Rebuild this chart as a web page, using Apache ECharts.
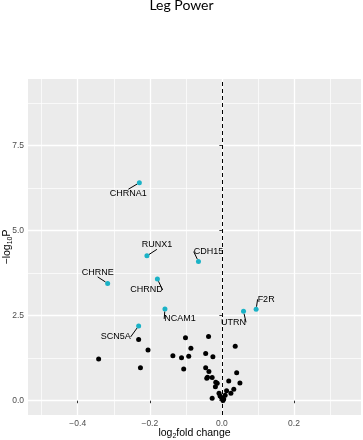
<!DOCTYPE html>
<html>
<head>
<meta charset="utf-8">
<script src="https://cdn.jsdelivr.net/npm/echarts@6/dist/echarts.min.js"></script>
<style>
  html, body { margin: 0; padding: 0; background: #fff; }
  #chart { width: 363px; height: 440px; }
</style>
</head>
<body>
<div id="chart"></div>
<script>
// 标注的基因
const geneNames = ["CHRNA1", "RUNX1", "CHRNE", "CHRND", "CDH15", "NCAM1", "SCN5A", "UTRN", "F2R"];
const geneLogFC = [-0.229, -0.208, -0.317, -0.179, -0.065, -0.158, -0.231, 0.060, 0.095];
const geneLogP = [6.41, 4.26, 3.45, 3.58, 4.09, 2.70, 2.20, 2.63, 2.69];

// 其他点
const otherLogFC = [-0.342, -0.231, -0.205, -0.226, -0.101, -0.037, -0.086, -0.136, -0.112, -0.092,
  -0.106, -0.045, -0.025, 0.037, -0.045, -0.036, -0.040, -0.042, -0.027, -0.017,
  -0.013, -0.018, 0.041, 0.019, 0.050, 0.033, 0.025, 0.013, 0.009, -0.008,
  -0.005, -0.001, 0.003, 0.005, -0.027];
const otherLogP = [1.23, 1.80, 1.49, 0.97, 1.85, 1.89, 1.54, 1.32, 1.26, 1.31,
  0.93, 1.39, 1.29, 1.60, 0.97, 0.86, 0.69, 0.66, 0.68, 0.54,
  0.51, 0.41, 0.82, 0.58, 0.52, 0.34, 0.22, 0.29, 0.16, 0.22,
  0.14, 0.09, 0.01, 0.05, 0.07];

// 刻度
const xMajorTicks = [-0.4, -0.2, 0, 0.2];
const xMinorTicks = [-0.5, -0.3, -0.1, 0.1, 0.3];
const yMajorTicks = [0, 2.5, 5, 7.5];
const yMinorTicks = [1.25, 3.75, 6.25, 8.75];

// 标签偏移 (dx, dy)
const labelOffsets = [[-11, 11], [10, -11], [-10, -11], [-11, 11], [10, -10], [15, 10], [-23, 11], [-10, 11], [10, -10]];

const chart = echarts.init(document.getElementById("chart"));
const tickFmt = v => (v < 0 ? "\u2212" : "") + Math.abs(v).toFixed(1);

const gridLines = [];
xMajorTicks.forEach(v => gridLines.push({ xAxis: v, lineStyle: { color: "#fff", width: 1.3, type: "solid" } }));
xMinorTicks.forEach(v => gridLines.push({ xAxis: v, lineStyle: { color: "#fff", width: 0.7, type: "solid" } }));
yMajorTicks.forEach(v => gridLines.push({ yAxis: v, lineStyle: { color: "#fff", width: 1.3, type: "solid" } }));
yMinorTicks.forEach(v => gridLines.push({ yAxis: v, lineStyle: { color: "#fff", width: 0.7, type: "solid" } }));

const nameRich = {
  a: { fontFamily: "Liberation Sans", fontSize: 10.5, color: "#000" },
  s: { fontFamily: "Liberation Sans", fontSize: 7, color: "#000", padding: [6, 0, 0, 0] }
};

const option = {
  animation: false,
  title: {
    text: "Leg Power",
    left: "center",
    top: -7,
    textStyle: { fontFamily: "Lato", fontSize: 14, fontWeight: "normal", color: "#000" }
  },
  grid: {
    left: 28, right: 2, top: 79, bottom: 25,
    containLabel: false,
    outerBoundsMode: "none",
    show: true, backgroundColor: "#EBEBEB", borderWidth: 0
  },
  xAxis: {
    type: "value",
    min: -0.538, max: 0.386,
    name: "{a|log}{s|2}{a|fold change}",
    nameLocation: "middle",
    nameGap: 12,
    nameMoveOverlap: false,
    nameTextStyle: { rich: nameRich },
    axisLine: { show: false },
    axisTick: { show: true, customValues: xMajorTicks, length: 2.5, lineStyle: { color: "#333" } },
    axisLabel: { customValues: xMajorTicks, formatter: tickFmt, fontFamily: "Liberation Sans", fontSize: 8.5, color: "#4D4D4D", margin: 4 },
    splitLine: { show: false }
  },
  yAxis: {
    type: "value",
    min: -0.42, max: 9.46,
    name: "{a|\u2212log}{s|10}{a|P}",
    nameLocation: "middle",
    nameRotate: 90,
    nameGap: 14,
    nameMoveOverlap: false,
    nameTextStyle: { rich: nameRich },
    axisLine: { show: false },
    axisTick: { show: true, customValues: yMajorTicks, length: 2.5, lineStyle: { color: "#333" } },
    axisLabel: { customValues: yMajorTicks, formatter: tickFmt, fontFamily: "Liberation Sans", fontSize: 8.5, color: "#4D4D4D", margin: 4 },
    splitLine: { show: false }
  },
  series: [
    {
      // 网格线
      type: "scatter",
      data: [],
      z: 0,
      silent: true,
      markLine: { z: 0, silent: true, symbol: "none", label: { show: false }, animation: false, data: gridLines }
    },
    {
      // x=0 虚线
      type: "scatter",
      data: [],
      z: 1,
      silent: true,
      markLine: {
        z: 1, silent: true, symbol: "none", label: { show: false }, animation: false,
        data: [{ xAxis: 0, lineStyle: { color: "#000", width: 1, type: [4, 3] } }]
      }
    },
    {
      type: "scatter",
      z: 10,
      symbolSize: 5,
      itemStyle: { color: "#000", opacity: 1 },
      data: otherLogFC.map((x, i) => [x, otherLogP[i]])
    },
    {
      type: "scatter",
      z: 11,
      symbolSize: 5,
      itemStyle: { color: "#1AB2C6", opacity: 1 },
      data: geneLogFC.map((x, i) => ({ value: [x, geneLogP[i]], name: geneNames[i] })),
      label: {
        show: true,
        position: "inside",
        formatter: p => p.name,
        fontFamily: "Liberation Sans",
        fontSize: 9,
        color: "#000"
      },
      labelLine: { show: true, lineStyle: { color: "#000", width: 1 } },
      labelLayout: p => ({ dx: labelOffsets[p.dataIndex][0], dy: labelOffsets[p.dataIndex][1] })
    }
  ]
};
chart.setOption(option);
</script>
</body>
</html>
